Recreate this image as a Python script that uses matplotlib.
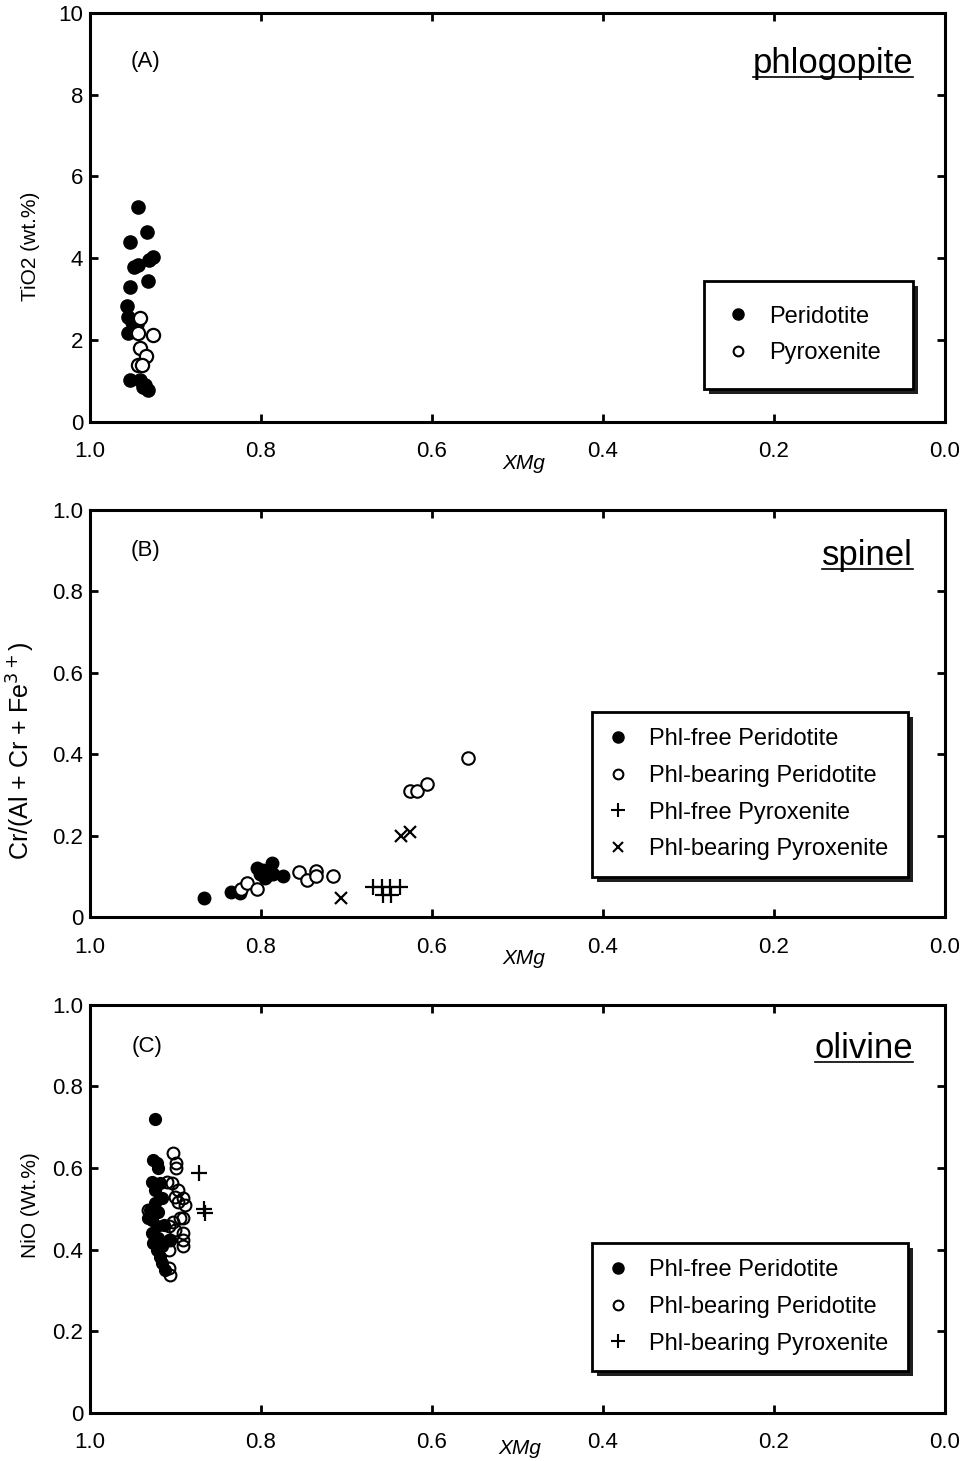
import matplotlib
matplotlib.use("Agg")

import matplotlib.pyplot as plt
import matplotlib.transforms as mtransforms
from matplotlib.lines import Line2D
from matplotlib.patches import Rectangle

plt.rcParams["font.family"] = ["Liberation Sans", "DejaVu Sans"]

# ---- DATA ----
# (A) phlogopite
a_perid_x = [0.9435, 0.933, 0.953, 0.926, 0.931, 0.9435, 0.949, 0.932, 0.953, 0.957,
             0.956, 0.951, 0.945, 0.956, 0.953, 0.9415, 0.9357, 0.932, 0.938]
a_perid_y = [5.26, 4.65, 4.41, 4.03, 3.96, 3.84, 3.78, 3.45, 3.29, 2.84,
             2.57, 2.45, 2.40, 2.18, 1.03, 1.03, 0.90, 0.78, 0.85]
a_pyrox_x = [0.9415, 0.9435, 0.926, 0.9415, 0.934, 0.9435, 0.9395]
a_pyrox_y = [2.53, 2.17, 2.13, 1.80, 1.60, 1.39, 1.39]

# (B) spinel
b_free_per_x = [0.8667, 0.8355, 0.8246, 0.805, 0.7875, 0.795, 0.786, 0.7746, 0.801, 0.7915, 0.798]
b_free_per_y = [0.048, 0.062, 0.058, 0.120, 0.132, 0.095, 0.107, 0.100, 0.107, 0.103, 0.115]
b_bear_per_x = [0.8234, 0.8167, 0.805, 0.756, 0.7466, 0.7357, 0.7357, 0.7154, 0.6257, 0.617, 0.606, 0.558]
b_bear_per_y = [0.070, 0.083, 0.070, 0.111, 0.091, 0.114, 0.100, 0.100, 0.310, 0.310, 0.328, 0.391]
b_free_pyx_x = [0.6686, 0.6589, 0.649, 0.6374, 0.657, 0.6483]
b_free_pyx_y = [0.0745, 0.0745, 0.0745, 0.0745, 0.054, 0.054]
b_bear_pyx_x = [0.7064, 0.6366, 0.6257]
b_bear_pyx_y = [0.047, 0.200, 0.208]

# (C) olivine
c_free_per_x = [0.924, 0.922, 0.920, 0.928, 0.918, 0.924, 0.916, 0.924, 0.930, 0.920,
                0.928, 0.932, 0.922, 0.928, 0.920, 0.926, 0.916, 0.922, 0.918, 0.916,
                0.912, 0.908, 0.914, 0.926]
c_free_per_y = [0.720, 0.612, 0.600, 0.567, 0.563, 0.547, 0.526, 0.514, 0.498, 0.493,
                0.473, 0.477, 0.457, 0.440, 0.428, 0.416, 0.408, 0.400, 0.383, 0.367,
                0.350, 0.424, 0.460, 0.620]
c_bear_per_x = [0.9025, 0.899, 0.899, 0.910, 0.904, 0.897, 0.9006, 0.891, 0.897, 0.889,
                0.932, 0.9025, 0.895, 0.891, 0.908, 0.9006, 0.891, 0.891, 0.891, 0.906,
                0.908, 0.908, 0.906]
c_bear_per_y = [0.636, 0.612, 0.600, 0.567, 0.563, 0.547, 0.530, 0.526, 0.518, 0.510,
                0.498, 0.469, 0.477, 0.477, 0.457, 0.449, 0.440, 0.424, 0.408, 0.424,
                0.400, 0.355, 0.338]
c_bear_pyx_x = [0.873, 0.8667, 0.8655]
c_bear_pyx_y = [0.587, 0.500, 0.490]

x_ticks = [1.0, 0.8, 0.6, 0.4, 0.2, 0.0]
x_ticklabels = ["1.0", "0.8", "0.6", "0.4", "0.2", "0.0"]
a_yticks = [0, 2, 4, 6, 8, 10]
a_yticklabels = ["0", "2", "4", "6", "8", "10"]
bc_yticks = [0, 0.2, 0.4, 0.6, 0.8, 1.0]
bc_yticklabels = ["0", "0.2", "0.4", "0.6", "0.8", "1.0"]

fig = plt.figure(figsize=(9.67, 14.61), dpi=100)

axA = fig.add_axes([0.0931, 0.7112, 0.8841, 0.2800])
axB = fig.add_axes([0.0931, 0.3723, 0.8841, 0.2786])
axC = fig.add_axes([0.0931, 0.0329, 0.8841, 0.2793])


def style(ax, yticks, yticklabels, ylim, xlab_y):
    ax.set_xlim(1.0, 0.0)
    ax.set_ylim(*ylim)
    ax.set_xticks(x_ticks)
    ax.set_xticklabels(x_ticklabels)
    ax.set_yticks(yticks)
    ax.set_yticklabels(yticklabels)
    for s in ax.spines.values():
        s.set_linewidth(2.2)
    ax.tick_params(direction="in", top=True, right=True, length=6, width=2,
                   labelsize=16)
    ax.tick_params(axis="x", pad=14)
    ax.tick_params(axis="y", pad=5)
    ax.set_xlabel("XMg", fontsize=15, style="italic")
    ax.xaxis.set_label_coords(0.507, xlab_y)


def title(ax, text, ybase):
    t = ax.text(0.963, ybase, text, transform=ax.transAxes, ha="right",
                va="baseline", fontsize=25)
    fig.canvas.draw()
    bb = t.get_window_extent()
    inv = ax.transAxes.inverted()
    x0 = inv.transform((bb.x0, 0))[0]
    x1 = inv.transform((bb.x1, 0))[0]
    tr = mtransforms.offset_copy(ax.transAxes, fig=fig, y=-4, units="dots")
    ax.add_line(Line2D([x0, x1], [ybase, ybase], transform=tr, color="black",
                       linewidth=1.2))


def legend(ax, handles, labels, x0, top, w, pad):
    leg = ax.legend(handles, labels, loc="upper left",
                    bbox_to_anchor=(x0, top - 0.5, w, 0.5), mode="expand",
                    fontsize=17, frameon=True, fancybox=False, framealpha=1,
                    edgecolor="black", borderpad=pad, labelspacing=0.62,
                    handlelength=0.8, handletextpad=0.9, borderaxespad=0)
    leg.get_frame().set_linewidth(2.0)
    # heavy drop shadow like the printed figure
    fig.canvas.draw()
    bb = leg.get_window_extent()
    inv = ax.transAxes.inverted()
    (lx0, ly0), (lx1, ly1) = inv.transform([(bb.x0, bb.y0), (bb.x1, bb.y1)])
    tr = mtransforms.offset_copy(ax.transAxes, fig=fig, x=5, y=-5, units="dots")
    ax.add_patch(Rectangle((lx0, ly0), lx1 - lx0, ly1 - ly0, transform=tr,
                           facecolor="0.12", edgecolor="none", zorder=4.9,
                           clip_on=False))
    return leg


# ---- (A) phlogopite ----
style(axA, a_yticks, a_yticklabels, (0, 10), -0.078)
axA.plot(a_perid_x, a_perid_y, "o", ms=9.5, mfc="black", mec="black")
axA.plot(a_pyrox_x, a_pyrox_y, "o", ms=9.5, mfc="white", mec="black", mew=1.6)
axA.set_ylabel("TiO2 (wt.%)", fontsize=15)
axA.yaxis.set_label_coords(-0.058, 0.43)
axA.text(0.047, 0.88, "(A)", transform=axA.transAxes, fontsize=16, va="center")
title(axA, "phlogopite", 0.853)
hA = [Line2D([], [], ls="", marker="o", ms=8, mfc="black", mec="black"),
      Line2D([], [], ls="", marker="o", ms=7, mfc="white", mec="black", mew=1.5)]
legend(axA, hA, ["Peridotite", "Pyroxenite"], 0.718, 0.345, 0.245, 1.05)

# ---- (B) spinel ----
style(axB, bc_yticks, bc_yticklabels, (0, 1.0), -0.079)
axB.plot(b_free_per_x, b_free_per_y, "o", ms=9, mfc="black", mec="black")
axB.plot(b_bear_per_x, b_bear_per_y, "o", ms=9, mfc="white", mec="black", mew=1.5)
axB.plot(b_free_pyx_x, b_free_pyx_y, "+", ms=12, mec="black", mew=1.6)
axB.plot(b_bear_pyx_x, b_bear_pyx_y, "x", ms=8, mec="black", mew=1.6)
axB.set_ylabel("Cr/(Al + Cr + Fe$^{3+}$)", fontsize=18)
axB.yaxis.set_label_coords(-0.062, 0.41)
axB.text(0.047, 0.90, "(B)", transform=axB.transAxes, fontsize=16, va="center")
title(axB, "spinel", 0.865)
hB = [Line2D([], [], ls="", marker="o", ms=8, mfc="black", mec="black"),
      Line2D([], [], ls="", marker="o", ms=7, mfc="white", mec="black", mew=1.5),
      Line2D([], [], ls="", marker="+", ms=10, mec="black", mew=1.5),
      Line2D([], [], ls="", marker="x", ms=7, mec="black", mew=1.5)]
legend(axB, hB, ["Phl-free Peridotite", "Phl-bearing Peridotite",
                 "Phl-free Pyroxenite", "Phl-bearing Pyroxenite"],
       0.587, 0.504, 0.370, 0.7)

# ---- (C) olivine ----
style(axC, bc_yticks, bc_yticklabels, (0, 1.0), -0.064)
axC.plot(c_free_per_x, c_free_per_y, "o", ms=8.5, mfc="black", mec="black")
axC.plot(c_bear_per_x, c_bear_per_y, "o", ms=8.5, mfc="none", mec="black", mew=1.5)
axC.plot(c_bear_pyx_x, c_bear_pyx_y, "+", ms=11, mec="black", mew=1.6)
axC.set_ylabel("NiO (Wt.%)", fontsize=15)
axC.yaxis.set_label_coords(-0.058, 0.51)
axC.xaxis.set_label_coords(0.503, -0.064)
axC.text(0.049, 0.897, "(C)", transform=axC.transAxes, fontsize=16, va="center")
title(axC, "olivine", 0.87)
hC = [Line2D([], [], ls="", marker="o", ms=8, mfc="black", mec="black"),
      Line2D([], [], ls="", marker="o", ms=7, mfc="white", mec="black", mew=1.5),
      Line2D([], [], ls="", marker="+", ms=10, mec="black", mew=1.5)]
legend(axC, hC, ["Phl-free Peridotite", "Phl-bearing Peridotite",
                 "Phl-bearing Pyroxenite"], 0.587, 0.417, 0.370, 0.7)

plt.savefig("out.png", dpi=100)
plt.close()
